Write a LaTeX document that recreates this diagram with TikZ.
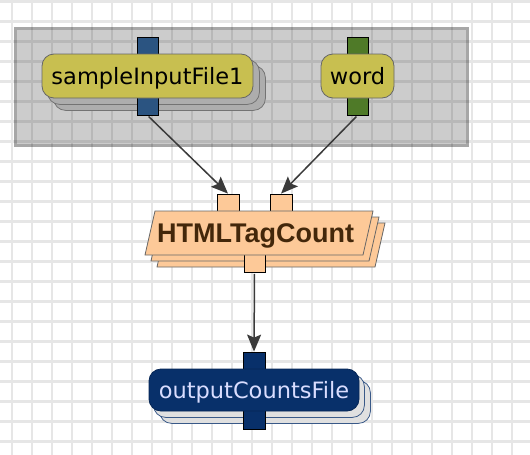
\documentclass[tikz,border=0pt]{standalone}
\usepackage{fontspec}
\setmainfont{DejaVu Sans}
\newfontfamily\libsans{Liberation Sans}
\usetikzlibrary{arrows.meta}
\definecolor{gridc}{HTML}{E6E6E6}
\definecolor{olive}{HTML}{C8BF50}
\definecolor{portblue}{HTML}{2B5481}
\definecolor{portgreen}{HTML}{4F7A28}
\definecolor{peach}{HTML}{FDC998}
\definecolor{brownt}{HTML}{43270A}
\definecolor{navy}{HTML}{08306A}
\definecolor{lavt}{HTML}{D9DDFF}
\definecolor{arrowc}{HTML}{3A3A3A}
\pgfdeclarelayer{bg}
\pgfdeclarelayer{mid}
\pgfsetlayers{bg,mid,main}
\tikzset{
  gridline/.style={draw=gridc, line width=2.5pt},
  inbox/.style={rectangle, rounded corners=12pt, fill=olive, draw=black!60, line width=0.8pt,
    font=\fontsize{22.5}{27}\selectfont, text=black, text height=17pt, text depth=0pt, inner sep=0pt},
  incopy/.style={rounded corners=12pt, fill=black!32, draw=black!55, line width=0.8pt},
  outbox/.style={rectangle, rounded corners=12pt, fill=navy, draw=navy!80!black, line width=0.8pt,
    font=\fontsize{22.5}{27}\selectfont, text=lavt, text height=17pt, text depth=0pt, inner sep=0pt},
  outcopy/.style={rounded corners=12pt, fill=black!12, draw=navy!80, line width=0.8pt},
  port/.style={rectangle, draw=black, line width=0.8pt, inner sep=0pt},
  procshape/.style={fill=peach, draw=black!60, line width=0.8pt},
  proctext/.style={font=\libsans\bfseries\fontsize{27}{30}\selectfont, text=brownt, text height=19.3pt, text depth=0pt, inner sep=0pt},
  conn/.style={draw=arrowc, line width=1.5pt, -{Stealth[length=17pt,width=14pt,inset=3pt]}, shorten <=1.5pt}
}
\begin{document}
\begin{tikzpicture}[x=1pt,y=-1pt]
\useasboundingbox (0,0) rectangle (530,455);
\begin{pgfonlayer}{bg}
  \fill[white] (0,0) rectangle (530,455);
  \foreach \i in {0,...,25} \draw[gridline] (12+20*\i,0) -- (12+20*\i,455);
  \foreach \j in {0,...,22} \draw[gridline] (0,1.5+20*\j) -- (530,1.5+20*\j);
  \fill[black, opacity=0.2] (14,27) rectangle (469,147);
  \draw[black, opacity=0.18, line width=3pt] (15.5,28.5) rectangle (467.5,145.5);
\end{pgfonlayer}

% input nodes
\node[inbox, minimum width=211pt, minimum height=44pt] (a) at (147.5,76) {sampleInputFile1};
\node[inbox, minimum width=73pt, minimum height=44pt] (w) at (357.5,76) {word};
% output node
\node[outbox, minimum width=210pt, minimum height=42pt] (o) at (254,390) {outputCountsFile};
% process node text
\node[proctext] (h) at (255.5,233) {HTMLTagCount};
\coordinate (hc) at (256,233);

\begin{pgfonlayer}{bg}
  \draw[incopy] ([shift={(12,12)}]a.north west) rectangle ([shift={(12,12)}]a.south east);
  \draw[incopy] ([shift={(6,6)}]a.north west) rectangle ([shift={(6,6)}]a.south east);
  \draw[outcopy] ([shift={(11,12)}]o.north west) rectangle ([shift={(11,12)}]o.south east);
  \draw[outcopy] ([shift={(5,6)}]o.north west) rectangle ([shift={(5,6)}]o.south east);
  \draw[procshape] ([shift={(-89,-10)}]hc) -- ([shift={(129,-10)}]hc) -- ([shift={(119,34)}]hc) -- ([shift={(-99,34)}]hc) -- cycle;
  \draw[procshape] ([shift={(-95,-16)}]hc) -- ([shift={(123,-16)}]hc) -- ([shift={(113,28)}]hc) -- ([shift={(-105,28)}]hc) -- cycle;
\end{pgfonlayer}

\begin{pgfonlayer}{mid}
  \node[port, fill=portblue, minimum width=21pt, minimum height=78pt] (ap) at (147.5,76) {};
  \node[port, fill=portgreen, minimum width=21pt, minimum height=78pt] (wp) at (357.5,76) {};
  \node[port, fill=navy, minimum width=22pt, minimum height=77pt] (op) at (254,390.5) {};
  \node[port, fill=peach, minimum width=22pt, minimum height=17pt] (hi1) at (228,202.5) {};
  \node[port, fill=peach, minimum width=22pt, minimum height=17pt] (hi2) at (281,202.5) {};
  \node[port, fill=peach, minimum width=21pt, minimum height=22pt] (ho) at (254.5,261) {};
  \draw[procshape] ([shift={(-101,-22)}]hc) -- ([shift={(117,-22)}]hc) -- ([shift={(107,22)}]hc) -- ([shift={(-111,22)}]hc) -- cycle;
\end{pgfonlayer}

\draw[conn] (ap.south) -- (hi1.north);
\draw[conn] (wp.south) -- (hi2.north);
\draw[conn] (ho.south) -- (op.north);
\end{tikzpicture}
\end{document}
